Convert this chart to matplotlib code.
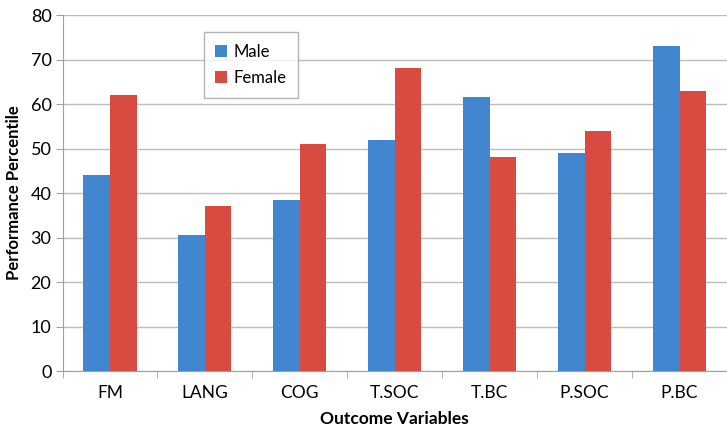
import numpy as np
import matplotlib.pyplot as plt

categories = ['FM', 'LANG', 'COG', 'T.SOC', 'T.BC', 'P.SOC', 'P.BC']
male = [44, 30.5, 38.5, 52, 61.5, 49, 73]
female = [62, 37, 51, 68, 48, 54, 63]
yticks = [0, 10, 20, 30, 40, 50, 60, 70, 80]

plt.rcParams['font.family'] = ['Lato', 'DejaVu Sans']

fig = plt.figure(figsize=(7.27, 4.29), dpi=100)
ax = fig.add_axes([0.086, 0.135, 0.914, 0.83])

x = np.arange(len(categories))
w = 0.28
ax.bar(x - w / 2, male, w, color='#4386D0', label='Male', zorder=3)
ax.bar(x + w / 2, female, w, color='#D94A40', label='Female', zorder=3)

ax.set_xlim(-0.5, len(categories) - 0.5)
ax.set_ylim(0, 80)
ax.set_yticks(yticks)
ax.set_xticks(x)
ax.set_xticklabels(categories, fontsize=12.5)
ax.tick_params(axis='x', length=0, pad=10)
ax.set_xticks(np.arange(len(categories) + 1) - 0.5, minor=True)
ax.tick_params(axis='x', which='minor', length=5, color='#A0A0A0')
ax.tick_params(axis='y', labelsize=13, length=5, color='#A0A0A0', pad=3)
ax.grid(axis='y', color='#BDBDBD', linewidth=1, zorder=0)

for s in ['top', 'right']:
    ax.spines[s].set_visible(False)
for s in ['left', 'bottom']:
    ax.spines[s].set_color('#A0A0A0')

ax.set_ylabel('Performance Percentile', fontsize=12, fontweight='bold', labelpad=6)
ax.set_xlabel('Outcome Variables', fontsize=12.5, fontweight='bold', labelpad=7)

leg = ax.legend(loc='upper left', bbox_to_anchor=(0.2, 0.975), fontsize=12,
                frameon=True, fancybox=False, edgecolor='#A0A0A0',
                handlelength=0.7, handleheight=0.7, handletextpad=0.4,
                borderpad=0.7, labelspacing=0.6)
leg.get_frame().set_linewidth(1)

fig.savefig('out.png', dpi=100)
